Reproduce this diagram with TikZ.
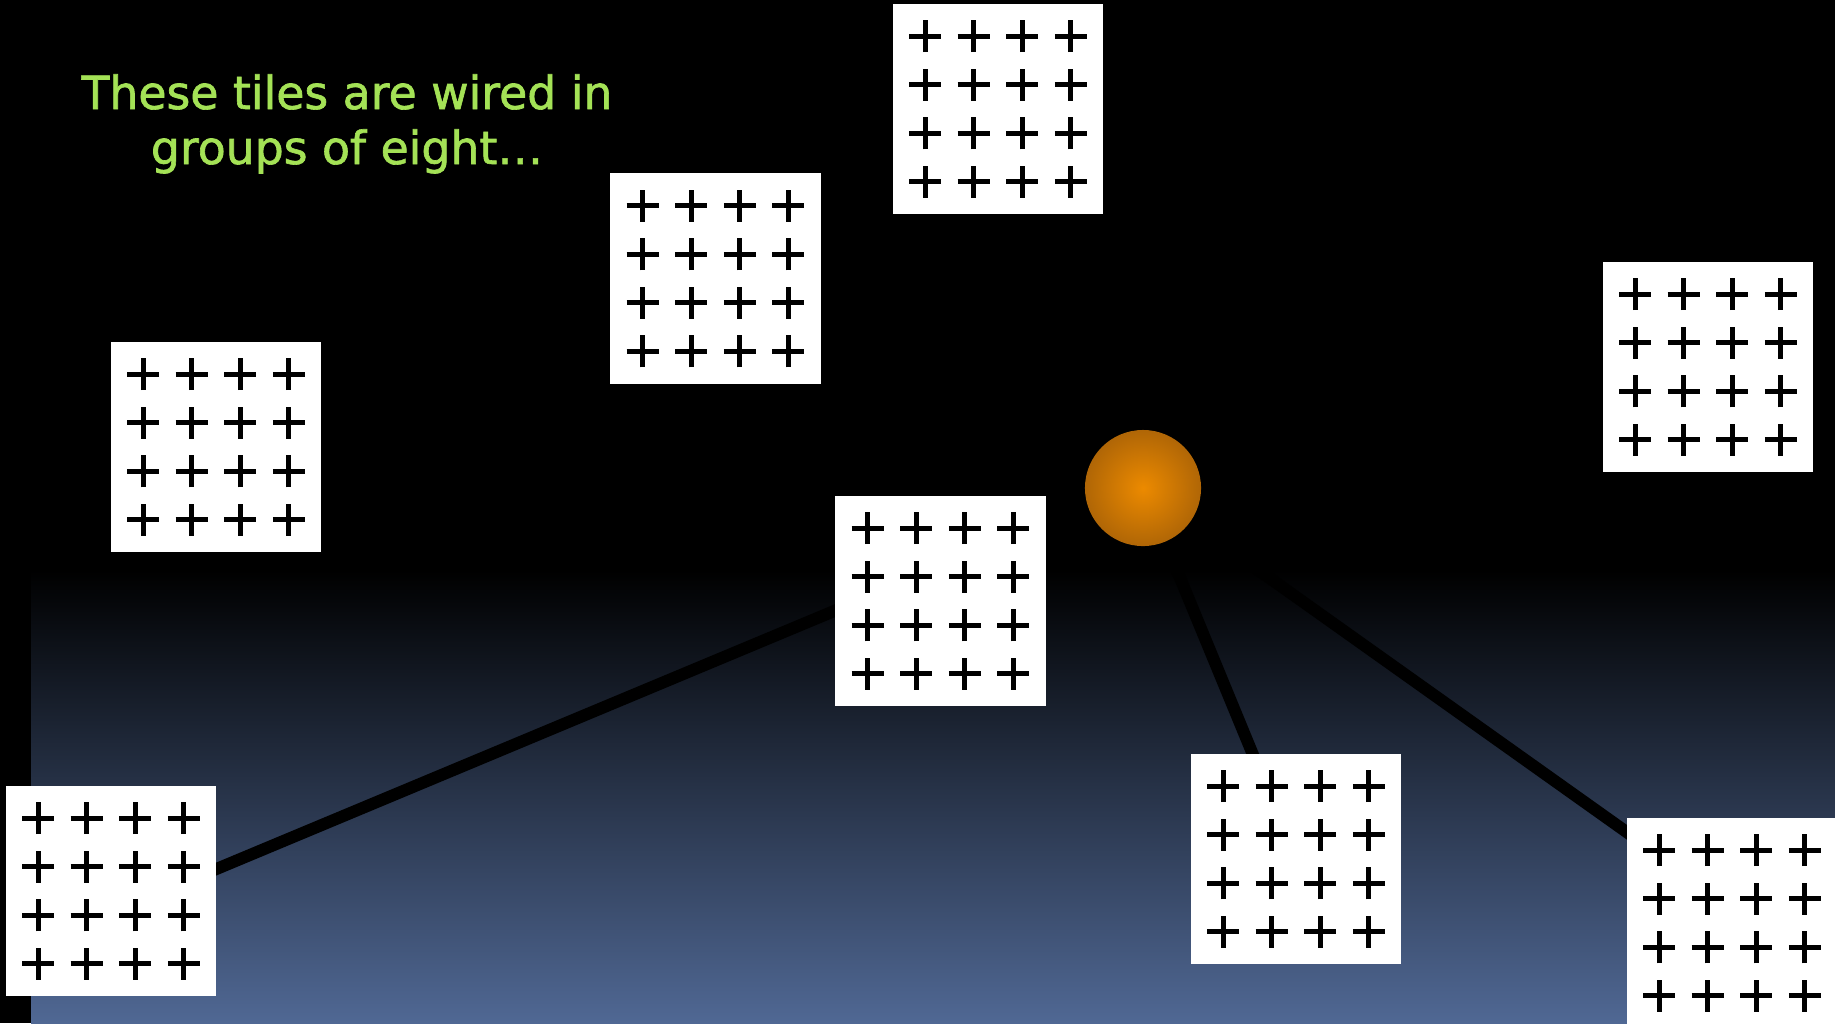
\documentclass[tikz,border=0pt]{standalone}
\usepackage{fontspec}
\setmainfont{DejaVu Sans}
\newfontfamily\capfont[FakeBold=1.4]{DejaVu Sans}
\usepackage{tikz}
\usetikzlibrary{positioning, calc}

\definecolor{capgreen}{RGB}{164,226,86}
\definecolor{skyblue}{RGB}{80,104,148}
\definecolor{sunin}{RGB}{236,138,0}
\definecolor{sunout}{RGB}{176,102,6}

\pgfdeclarelayer{sky}
\pgfdeclarelayer{wires}
\pgfsetlayers{sky,wires,main}

\tikzset{
    tile/.style={fill=white, inner sep=0pt, minimum size=2.1cm,
        path picture={
            \foreach \dx in {-0.7275,-0.2425,0.2425,0.7275}
                \foreach \dy in {-0.7275,-0.2425,0.2425,0.7275} {
                    \draw[line width=0.052cm]
                        ($(path picture bounding box.center)+(\dx cm-0.16cm,\dy cm)$) -- ++(0.32cm,0cm);
                    \draw[line width=0.052cm]
                        ($(path picture bounding box.center)+(\dx cm,\dy cm-0.16cm)$) -- ++(0cm,0.32cm);
                }
        }},
    sun/.style={circle, inner sep=0pt, minimum size=1.16cm, inner color=sunin, outer color=sunout},
    wire/.style={line width=0.12cm, black},
    caption/.style={text=capgreen, inner sep=0pt, anchor=base, font=\capfont\fontsize{13}{15}\selectfont}
}

\begin{document}
\begin{tikzpicture}[x=0.01cm, y=-0.01cm]

    \useasboundingbox (0,0) rectangle (1835,1023);

    % Backdrop
    \begin{pgfonlayer}{sky}
        \fill[black] (0,0) rectangle (1835,1023);
        \shade[top color=black, bottom color=skyblue] (31,570) rectangle (1835,1023);
    \end{pgfonlayer}

    % Caption
    \node[caption] (line1) at (347,109) {These tiles are wired in};
    \node[caption] (line2) at (347,164) {groups of eight…};

    % Switch
    \node[sun] (sun) at (1143,488) {};

    % Tiles
    \node[tile] (tileTop) at (998,109) {};
    \node[tile] (tileUpper) at (715.5,278.5) {};
    \node[tile] (tileLeft) at (216,447) {};
    \node[tile] (tileRight) at (1708,367) {};
    \node[tile] (tileMid) at (940.5,601) {};
    \node[tile] (tileLowLeft) at (111,891) {};
    \node[tile] (tileLowMid) at (1296,859) {};
    \node[tile] (tileLowRight) at (1732,923) {};

    % Wires
    \begin{pgfonlayer}{wires}
        \draw[wire] ($(sun.center)+(0,-6)$) -- ($(tileLowLeft.center)+(0,22)$);
        \draw[wire] (sun.center) -- (tileLowMid.center);
        \draw[wire] (sun.center) -- ($(tileLowRight.center)+(0,-16)$);
    \end{pgfonlayer}

\end{tikzpicture}
\end{document}
